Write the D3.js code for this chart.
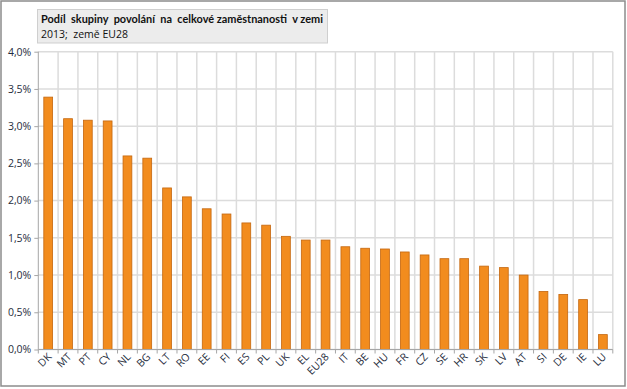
<!DOCTYPE html>
<html><head><meta charset="utf-8">
<script src="https://cdn.jsdelivr.net/npm/d3@7"></script>
<style>
body{margin:0;background:#fff;}
svg{display:block;font-family:"Open Sans",sans-serif;}
</style></head>
<body><svg id="c" width="627" height="389"></svg>
<script>
const categories = ["DK","MT","PT","CY","NL","BG","LT","RO","EE","FI","ES","PL","UK","EL","EU28","IT","BE","HU","FR","CZ","SE","HR","SK","LV","AT","SI","DE","IE","LU"];
const values = [3.39,3.10,3.08,3.07,2.60,2.57,2.17,2.05,1.89,1.82,1.70,1.67,1.52,1.47,1.47,1.38,1.36,1.35,1.31,1.27,1.22,1.22,1.12,1.10,1.00,0.78,0.74,0.67,0.20];
const yTicks = [0,0.5,1.0,1.5,2.0,2.5,3.0,3.5,4.0];
const titleLines = ["Podíl  skupiny  povolání  na  celkové zaměstnanosti  v zemi","2013;  země EU28"];

const svg = d3.select("#c");
const L = 38.3, R = 612.8, T = 51.7, B = 349.5;

svg.append("rect").attr("x",1).attr("y",1).attr("width",624).attr("height",385)
  .attr("fill","#fff").attr("stroke","#8c8c8c").attr("stroke-width",1.5);

const x = d3.scaleBand().domain(categories).range([L,R]).paddingInner(0).paddingOuter(0);
const y = d3.scaleLinear().domain([0,4]).range([B,T]);

svg.append("g").selectAll("line").data(yTicks).join("line")
  .attr("x1",L).attr("x2",R).attr("y1",d=>y(d)).attr("y2",d=>y(d))
  .attr("stroke","#dcdcdc").attr("stroke-width",1.5);
const bounds = categories.map(c=>x(c)+x.bandwidth());
svg.append("g").selectAll("line").data(bounds).join("line")
  .attr("x1",d=>d).attr("x2",d=>d).attr("y1",T).attr("y2",B)
  .attr("stroke","#dcdcdc").attr("stroke-width",1.5);

const bw = 8.8;
svg.append("g").selectAll("rect").data(values).join("rect")
  .attr("x",(d,i)=>x(categories[i])+x.bandwidth()/2-bw/2)
  .attr("y",d=>y(d)).attr("width",bw).attr("height",d=>B-y(d))
  .attr("fill","#f28c1e").attr("stroke","#c4670f").attr("stroke-width",0.8);

const fmt = d=>d3.format(".1f")(d).replace(".",",")+"%";
const ya = svg.append("g").attr("transform",`translate(${L},0)`)
  .call(d3.axisLeft(y).tickValues(yTicks).tickFormat(fmt).tickSize(4).tickPadding(3));
ya.select(".domain").attr("stroke","#a6a6a6").attr("d",`M0,${T}V${B}`);
ya.selectAll(".tick line").attr("stroke","#a6a6a6");
ya.selectAll("text").attr("font-size","10.5px").attr("fill","#1f2d3d").attr("font-family","Open Sans");

const xa = svg.append("g").attr("transform",`translate(0,${B})`)
  .call(d3.axisBottom(x).tickSize(0).tickFormat(d=>d));
xa.select(".domain").attr("stroke","#a6a6a6").attr("d",`M${L},0H${R}`);
xa.selectAll(".tick line").remove();
xa.selectAll(".tick text")
  .attr("font-size","10.5px").attr("fill","#1f2d3d").attr("font-family","Open Sans")
  .attr("text-anchor","end").attr("dy",0).attr("y",0)
  .attr("transform","translate(4,8) rotate(-45)");
svg.append("g").selectAll("line").data([L].concat(bounds)).join("line")
  .attr("x1",d=>d).attr("x2",d=>d).attr("y1",B).attr("y2",B+4)
  .attr("stroke","#a6a6a6");

svg.append("rect").attr("x",37.5).attr("y",9.5).attr("width",290).attr("height",33.5)
  .attr("fill","#ececec").attr("stroke","#cfcfcf");
svg.append("text").attr("x",41).attr("y",23).attr("font-size","11.5px").attr("font-weight","bold")
  .attr("font-family","Lato").attr("textLength",282).attr("lengthAdjust","spacingAndGlyphs")
  .attr("fill","#111").style("white-space","pre").text(titleLines[0]);
svg.append("text").attr("x",41).attr("y",38).attr("font-size","10.5px")
  .attr("fill","#111").style("white-space","pre").text(titleLines[1]);
</script></body></html>
